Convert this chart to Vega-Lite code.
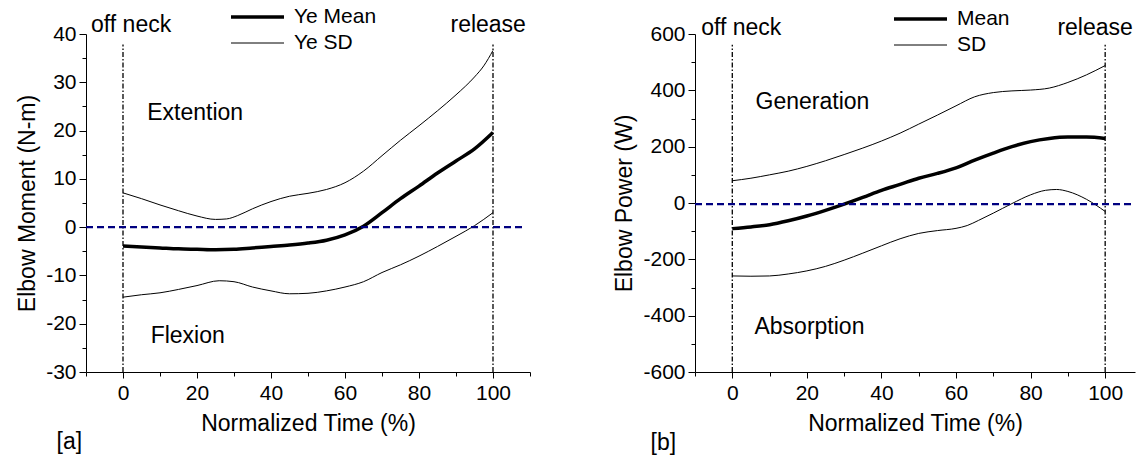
{
  "$schema": "https://vega.github.io/schema/vega-lite/v6.json",
  "padding": {"left": 16, "top": 4, "right": 0, "bottom": 0},
  "background": "white",
  "config": {
    "view": {"stroke": null},
    "font": "Liberation Sans",
    "axis": {
      "grid": false, "domainColor": "black", "tickColor": "black", "labelColor": "black",
      "titleColor": "black", "labelFontSize": 21, "titleFontSize": 23, "titleFontWeight": "normal",
      "labelFont": "Liberation Sans", "titleFont": "Liberation Sans", "domainWidth": 1, "tickWidth": 1,
      "tickCount": 40, "labelOverlap": false, "labelFlush": false
    },
    "legend": {
      "labelFont": "Liberation Sans", "labelFontSize": 21, "labelColor": "black",
      "symbolType": "stroke", "symbolSize": 2809, "symbolStrokeColor": "black",
      "clipHeight": 26, "rowPadding": 0, "labelOffset": 8, "padding": 0
    }
  },
  "datasets": {
    "left": [
      {"t":0,"v":-3.9,"curve":"mean","series":"Ye Mean"},{"t":5,"v":-4.1,"curve":"mean","series":"Ye Mean"},{"t":10,"v":-4.3,"curve":"mean","series":"Ye Mean"},{"t":15,"v":-4.5,"curve":"mean","series":"Ye Mean"},{"t":20,"v":-4.6,"curve":"mean","series":"Ye Mean"},{"t":25,"v":-4.7,"curve":"mean","series":"Ye Mean"},{"t":30,"v":-4.6,"curve":"mean","series":"Ye Mean"},{"t":35,"v":-4.3,"curve":"mean","series":"Ye Mean"},{"t":40,"v":-4.0,"curve":"mean","series":"Ye Mean"},{"t":45,"v":-3.7,"curve":"mean","series":"Ye Mean"},{"t":50,"v":-3.3,"curve":"mean","series":"Ye Mean"},{"t":55,"v":-2.7,"curve":"mean","series":"Ye Mean"},{"t":60,"v":-1.6,"curve":"mean","series":"Ye Mean"},{"t":65,"v":0.2,"curve":"mean","series":"Ye Mean"},{"t":70,"v":3.0,"curve":"mean","series":"Ye Mean"},{"t":75,"v":5.9,"curve":"mean","series":"Ye Mean"},{"t":80,"v":8.5,"curve":"mean","series":"Ye Mean"},{"t":85,"v":11.2,"curve":"mean","series":"Ye Mean"},{"t":90,"v":13.7,"curve":"mean","series":"Ye Mean"},{"t":95,"v":16.2,"curve":"mean","series":"Ye Mean"},{"t":100,"v":19.6,"curve":"mean","series":"Ye Mean"},
      {"t":0,"v":7.1,"curve":"upper","series":"Ye SD"},{"t":5,"v":5.9,"curve":"upper","series":"Ye SD"},{"t":10,"v":4.6,"curve":"upper","series":"Ye SD"},{"t":15,"v":3.4,"curve":"upper","series":"Ye SD"},{"t":20,"v":2.3,"curve":"upper","series":"Ye SD"},{"t":25,"v":1.6,"curve":"upper","series":"Ye SD"},{"t":28,"v":1.7,"curve":"upper","series":"Ye SD"},{"t":31,"v":2.4,"curve":"upper","series":"Ye SD"},{"t":35,"v":3.8,"curve":"upper","series":"Ye SD"},{"t":40,"v":5.3,"curve":"upper","series":"Ye SD"},{"t":45,"v":6.4,"curve":"upper","series":"Ye SD"},{"t":50,"v":7.0,"curve":"upper","series":"Ye SD"},{"t":55,"v":7.8,"curve":"upper","series":"Ye SD"},{"t":60,"v":9.2,"curve":"upper","series":"Ye SD"},{"t":65,"v":11.6,"curve":"upper","series":"Ye SD"},{"t":70,"v":14.8,"curve":"upper","series":"Ye SD"},{"t":75,"v":18.0,"curve":"upper","series":"Ye SD"},{"t":80,"v":21.0,"curve":"upper","series":"Ye SD"},{"t":85,"v":24.1,"curve":"upper","series":"Ye SD"},{"t":90,"v":27.4,"curve":"upper","series":"Ye SD"},{"t":95,"v":31.1,"curve":"upper","series":"Ye SD"},{"t":97.5,"v":33.4,"curve":"upper","series":"Ye SD"},{"t":100,"v":36.6,"curve":"upper","series":"Ye SD"},
      {"t":0,"v":-14.5,"curve":"lower","series":"Ye SD"},{"t":5,"v":-14.0,"curve":"lower","series":"Ye SD"},{"t":10,"v":-13.6,"curve":"lower","series":"Ye SD"},{"t":15,"v":-12.9,"curve":"lower","series":"Ye SD"},{"t":20,"v":-12.1,"curve":"lower","series":"Ye SD"},{"t":26,"v":-11.1,"curve":"lower","series":"Ye SD"},{"t":30,"v":-11.3,"curve":"lower","series":"Ye SD"},{"t":35,"v":-12.4,"curve":"lower","series":"Ye SD"},{"t":40,"v":-13.2,"curve":"lower","series":"Ye SD"},{"t":45,"v":-13.8,"curve":"lower","series":"Ye SD"},{"t":50,"v":-13.7,"curve":"lower","series":"Ye SD"},{"t":55,"v":-13.2,"curve":"lower","series":"Ye SD"},{"t":60,"v":-12.4,"curve":"lower","series":"Ye SD"},{"t":65,"v":-11.3,"curve":"lower","series":"Ye SD"},{"t":70,"v":-9.4,"curve":"lower","series":"Ye SD"},{"t":75,"v":-7.8,"curve":"lower","series":"Ye SD"},{"t":80,"v":-6.0,"curve":"lower","series":"Ye SD"},{"t":85,"v":-4.0,"curve":"lower","series":"Ye SD"},{"t":90,"v":-1.9,"curve":"lower","series":"Ye SD"},{"t":95,"v":0.3,"curve":"lower","series":"Ye SD"},{"t":100,"v":3.0,"curve":"lower","series":"Ye SD"}
    ],
    "right": [
      {"t":0,"v":-91,"curve":"mean","series":"Mean"},{"t":5,"v":-85,"curve":"mean","series":"Mean"},{"t":10,"v":-77,"curve":"mean","series":"Mean"},{"t":15,"v":-63,"curve":"mean","series":"Mean"},{"t":20,"v":-46,"curve":"mean","series":"Mean"},{"t":25,"v":-26,"curve":"mean","series":"Mean"},{"t":30,"v":-4,"curve":"mean","series":"Mean"},{"t":35,"v":20,"curve":"mean","series":"Mean"},{"t":40,"v":45,"curve":"mean","series":"Mean"},{"t":45,"v":66,"curve":"mean","series":"Mean"},{"t":50,"v":88,"curve":"mean","series":"Mean"},{"t":55,"v":105,"curve":"mean","series":"Mean"},{"t":60,"v":125,"curve":"mean","series":"Mean"},{"t":65,"v":152,"curve":"mean","series":"Mean"},{"t":70,"v":177,"curve":"mean","series":"Mean"},{"t":75,"v":200,"curve":"mean","series":"Mean"},{"t":80,"v":218,"curve":"mean","series":"Mean"},{"t":85,"v":229,"curve":"mean","series":"Mean"},{"t":90,"v":234,"curve":"mean","series":"Mean"},{"t":95,"v":234,"curve":"mean","series":"Mean"},{"t":100,"v":229,"curve":"mean","series":"Mean"},
      {"t":0,"v":79,"curve":"upper","series":"SD"},{"t":5,"v":88,"curve":"upper","series":"SD"},{"t":10,"v":100,"curve":"upper","series":"SD"},{"t":15,"v":113,"curve":"upper","series":"SD"},{"t":20,"v":130,"curve":"upper","series":"SD"},{"t":25,"v":150,"curve":"upper","series":"SD"},{"t":30,"v":172,"curve":"upper","series":"SD"},{"t":35,"v":195,"curve":"upper","series":"SD"},{"t":40,"v":220,"curve":"upper","series":"SD"},{"t":45,"v":248,"curve":"upper","series":"SD"},{"t":50,"v":280,"curve":"upper","series":"SD"},{"t":55,"v":312,"curve":"upper","series":"SD"},{"t":60,"v":345,"curve":"upper","series":"SD"},{"t":65,"v":377,"curve":"upper","series":"SD"},{"t":70,"v":392,"curve":"upper","series":"SD"},{"t":75,"v":398,"curve":"upper","series":"SD"},{"t":80,"v":401,"curve":"upper","series":"SD"},{"t":85,"v":408,"curve":"upper","series":"SD"},{"t":90,"v":428,"curve":"upper","series":"SD"},{"t":95,"v":455,"curve":"upper","series":"SD"},{"t":100,"v":488,"curve":"upper","series":"SD"},
      {"t":0,"v":-259,"curve":"lower","series":"SD"},{"t":5,"v":-260,"curve":"lower","series":"SD"},{"t":10,"v":-259,"curve":"lower","series":"SD"},{"t":15,"v":-252,"curve":"lower","series":"SD"},{"t":20,"v":-241,"curve":"lower","series":"SD"},{"t":25,"v":-225,"curve":"lower","series":"SD"},{"t":30,"v":-203,"curve":"lower","series":"SD"},{"t":35,"v":-178,"curve":"lower","series":"SD"},{"t":40,"v":-152,"curve":"lower","series":"SD"},{"t":45,"v":-127,"curve":"lower","series":"SD"},{"t":50,"v":-108,"curve":"lower","series":"SD"},{"t":55,"v":-98,"curve":"lower","series":"SD"},{"t":60,"v":-90,"curve":"lower","series":"SD"},{"t":63,"v":-80,"curve":"lower","series":"SD"},{"t":66,"v":-62,"curve":"lower","series":"SD"},{"t":70,"v":-36,"curve":"lower","series":"SD"},{"t":75,"v":-2,"curve":"lower","series":"SD"},{"t":80,"v":29,"curve":"lower","series":"SD"},{"t":84,"v":45,"curve":"lower","series":"SD"},{"t":87,"v":48,"curve":"lower","series":"SD"},{"t":90,"v":41,"curve":"lower","series":"SD"},{"t":95,"v":13,"curve":"lower","series":"SD"},{"t":100,"v":-30,"curve":"lower","series":"SD"}
    ]
  },
  "spacing": 82,
  "resolve": {"scale": {"strokeWidth": "independent", "y": "independent", "x": "independent"}, "legend": {"strokeWidth": "independent"}},
  "hconcat": [
    {
      "width": 444, "height": 338,
      "layer": [
        {
          "data": {"name": "left"},
          "mark": {"type": "line", "color": "black", "interpolate": "monotone"},
          "encoding": {
            "x": {"field": "t", "type": "quantitative", "scale": {"domain": [-10, 110], "nice": false, "zero": false},
              "axis": {"title": "Normalized Time (%)", "values": [-10,0,10,20,30,40,50,60,70,80,90,100,110],
                "tickCount": 40,
                "labelExpr": "datum.value % 20 == 0 ? datum.label : ''",
                "tickSize": {"condition": {"test": "datum.value % 20 == 0", "value": 6}, "value": 4},
                "labelPadding": 4, "titlePadding": 9}},
            "y": {"field": "v", "type": "quantitative", "scale": {"domain": [-30, 40], "nice": false, "zero": false},
              "axis": {"title": "Elbow Moment (N-m)", "values": [-30,-25,-20,-15,-10,-5,0,5,10,15,20,25,30,35,40],
                "tickCount": 40,
                "labelExpr": "datum.value % 10 == 0 ? replace(datum.label, '\u2212', '-') : ''",
                "tickSize": {"condition": {"test": "datum.value % 10 == 0", "value": 7}, "value": 4},
                "labelPadding": 3, "titlePadding": 6}},
            "detail": {"field": "curve", "type": "nominal"},
            "strokeWidth": {"field": "series", "type": "ordinal",
              "scale": {"domain": ["Ye Mean", "Ye SD"], "range": [3.5, 1]},
              "legend": {"title": null, "orient": "none", "legendX": 143, "legendY": -30}}
          }
        },
        {
          "data": {"values": [{"t":0,"lo":-30,"hi":37.8},{"t":100,"lo":-30,"hi":37.8}]},
          "mark": {"type": "rule", "color": "black", "strokeWidth": 1.3, "strokeDash": [5, 2, 1.5, 2]},
          "encoding": {
            "x": {"field": "t", "type": "quantitative"},
            "y": {"field": "lo", "type": "quantitative"},
            "y2": {"field": "hi"}
          }
        },
        {
          "data": {"values": [{"a":-10,"b":108,"v":0}]},
          "mark": {"type": "rule", "color": "#000080", "strokeWidth": 2.2, "strokeDash": [7, 4]},
          "encoding": {
            "x": {"field": "a", "type": "quantitative"},
            "x2": {"field": "b"},
            "y": {"field": "v", "type": "quantitative"}
          }
        },
        {
          "data": {"values": [
            {"t": 2.2, "v": 41.9, "label": "off neck"},
            {"t": 98.7, "v": 41.9, "label": "release"},
            {"t": 19.5, "v": 23.6, "label": "Extention"},
            {"t": 17.5, "v": -22.6, "label": "Flexion"},
            {"t": -14.5, "v": -44.5, "label": "[a]"}
          ]},
          "mark": {"type": "text", "fontSize": 23, "color": "black", "baseline": "middle", "align": "center"},
          "encoding": {
            "x": {"field": "t", "type": "quantitative"},
            "y": {"field": "v", "type": "quantitative"},
            "text": {"field": "label"}
          }
        }
      ]
    },
    {
      "width": 440, "height": 338,
      "layer": [
        {
          "data": {"name": "right"},
          "mark": {"type": "line", "color": "black", "interpolate": "monotone"},
          "encoding": {
            "x": {"field": "t", "type": "quantitative", "scale": {"domain": [-10, 108], "nice": false, "zero": false},
              "axis": {"title": "Normalized Time (%)", "values": [-10,0,10,20,30,40,50,60,70,80,90,100],
                "tickCount": 40,
                "labelExpr": "datum.value % 20 == 0 ? datum.label : ''",
                "tickSize": {"condition": {"test": "datum.value % 20 == 0", "value": 6}, "value": 4},
                "labelPadding": 4, "titlePadding": 9}},
            "y": {"field": "v", "type": "quantitative", "scale": {"domain": [-600, 600], "nice": false, "zero": false},
              "axis": {"title": "Elbow Power (W)", "values": [-600,-500,-400,-300,-200,-100,0,100,200,300,400,500,600],
                "tickCount": 40,
                "labelExpr": "datum.value % 200 == 0 ? replace(datum.label, '\u2212', '-') : ''",
                "tickSize": {"condition": {"test": "datum.value % 200 == 0", "value": 7}, "value": 4},
                "labelPadding": 3, "titlePadding": 6}},
            "detail": {"field": "curve", "type": "nominal"},
            "strokeWidth": {"field": "series", "type": "ordinal",
              "scale": {"domain": ["Mean", "SD"], "range": [3.5, 1]},
              "legend": {"title": null, "orient": "none", "legendX": 197, "legendY": -28}}
          }
        },
        {
          "data": {"values": [{"t":0,"lo":-600,"hi":562},{"t":100,"lo":-600,"hi":562}]},
          "mark": {"type": "rule", "color": "black", "strokeWidth": 1.3, "strokeDash": [5, 2, 1.5, 2]},
          "encoding": {
            "x": {"field": "t", "type": "quantitative"},
            "y": {"field": "lo", "type": "quantitative"},
            "y2": {"field": "hi"}
          }
        },
        {
          "data": {"values": [{"a":-10,"b":108,"v":-4}]},
          "mark": {"type": "rule", "color": "#000080", "strokeWidth": 2.2, "strokeDash": [7, 4]},
          "encoding": {
            "x": {"field": "a", "type": "quantitative"},
            "x2": {"field": "b"},
            "y": {"field": "v", "type": "quantitative"}
          }
        },
        {
          "data": {"values": [
            {"t": 2.4, "v": 622, "label": "off neck"},
            {"t": 97.3, "v": 622, "label": "release"},
            {"t": 21.5, "v": 359, "label": "Generation"},
            {"t": 20.7, "v": -439, "label": "Absorption"},
            {"t": -18.5, "v": -853, "label": "[b]"}
          ]},
          "mark": {"type": "text", "fontSize": 23, "color": "black", "baseline": "middle", "align": "center"},
          "encoding": {
            "x": {"field": "t", "type": "quantitative"},
            "y": {"field": "v", "type": "quantitative"},
            "text": {"field": "label"}
          }
        }
      ]
    }
  ]
}
